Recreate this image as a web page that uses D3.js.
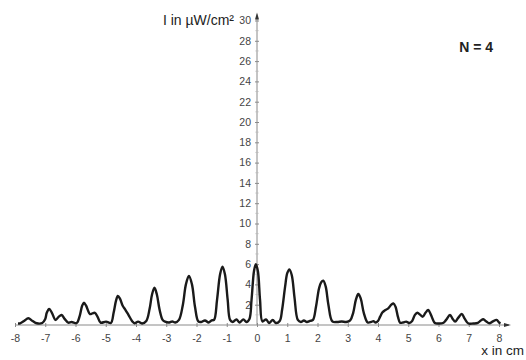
<!DOCTYPE html>
<html>
<head>
<meta charset="utf-8">
<script src="https://cdn.jsdelivr.net/npm/d3@7/dist/d3.min.js"></script>
<style>
  html, body { margin: 0; padding: 0; background: #fff; }
  svg { display: block; font-family: "Liberation Sans", Arial, sans-serif; }
</style>
</head>
<body>
<svg id="chart" width="526" height="360"></svg>
<script>
// ---- data ----
const xPos = [
  -7.9, -7.83, -7.7, -7.56, -7.42, -7.28, -7.1, -7.0, -6.95, -6.87, -6.78, -6.66, -6.56, -6.46, -6.36, -6.24, -6.13, -5.96,
  -5.86, -5.78, -5.72, -5.65, -5.52, -5.44, -5.36, -5.27, -5.17, -4.99, -4.83, -4.74, -4.66, -4.6, -4.53, -4.44, -4.36,
  -4.25, -4.12, -4.05, -3.93, -3.8, -3.66, -3.55, -3.47, -3.39, -3.31, -3.22, -3.12, -3.04, -2.9, -2.8, -2.7, -2.58,
  -2.45, -2.35, -2.25, -2.15, -2.05, -1.94, -1.85, -1.72, -1.6, -1.5, -1.42, -1.32, -1.22, -1.14, -1.06, -0.97, -0.89,
  -0.8, -0.68, -0.58, -0.45, -0.35, -0.25, -0.18, -0.1, -0.04, 0.03, 0.1, 0.18, 0.3, 0.4, 0.52, 0.62, 0.75, 0.83, 0.93,
  1.0, 1.07, 1.15, 1.24, 1.35, 1.45, 1.55, 1.65, 1.75, 1.85, 1.95, 2.05, 2.12, 2.19, 2.27, 2.36, 2.49, 2.65, 2.8, 2.95,
  3.08, 3.18, 3.27, 3.35, 3.43, 3.53, 3.66, 3.78, 3.85, 3.92, 4.0, 4.07, 4.15, 4.23, 4.34, 4.44, 4.51, 4.58, 4.66, 4.73,
  4.83, 4.93, 5.03, 5.13, 5.22, 5.3, 5.4, 5.48, 5.57, 5.66, 5.75, 5.88, 6.0, 6.15, 6.25, 6.38, 6.47, 6.55, 6.65, 6.77,
  6.87, 6.99, 7.15, 7.3, 7.4, 7.48, 7.58, 7.68, 7.8, 7.92, 8.0, 8.05
];
const intensity = [
  0.15, 0.17, 0.4, 0.66, 0.4, 0.17, 0.2, 0.6, 1.2, 1.58, 1.2, 0.5, 0.8, 0.98, 0.6, 0.23, 0.3, 0.2,
  0.9, 1.9, 2.2, 1.9, 1.08, 1.15, 1.2, 0.8, 0.23, 0.33, 0.2, 1.2, 2.4, 2.86, 2.6, 1.9, 1.54,
  1.0, 0.35, 0.17, 0.33, 0.15, 0.4, 1.6, 3.0, 3.68, 3.0, 1.5, 0.5, 0.33, 0.25, 0.35, 0.25, 0.5,
  2.0, 4.0, 4.83, 4.0, 1.8, 0.35, 0.3, 0.45, 0.25, 0.45, 0.5, 2.5, 5.0, 5.75, 5.0, 2.5, 0.5,
  0.3, 0.55, 0.25, 0.55, 0.3, 0.6, 2.5, 5.3, 6.0, 5.3, 2.5, 0.35, 0.55, 0.2, 0.5, 0.2, 0.4, 1.5, 3.8,
  5.1, 5.48, 4.9, 2.7, 0.5, 0.3, 0.45, 0.3, 0.4, 0.5, 1.8, 3.6, 4.2, 4.37, 3.8, 2.0, 0.35, 0.3, 0.35, 0.3,
  0.45, 1.2, 2.5, 3.05, 2.6, 1.2, 0.25, 0.3, 0.38, 0.25, 0.4, 0.82, 1.25, 1.45, 1.64, 2.0, 2.13, 1.8, 0.8, 0.23,
  0.25, 0.33, 0.2, 0.4, 1.0, 1.21, 1.0, 0.82, 1.2, 1.48, 1.0, 0.2, 0.15, 0.2, 0.5, 0.98, 0.6, 0.33, 0.7, 1.08,
  0.6, 0.15, 0.15, 0.2, 0.45, 0.56, 0.35, 0.17, 0.35, 0.5, 0.25, 0.17
];
const xTicks = [-8, -7, -6, -5, -4, -3, -2, -1, 0, 1, 2, 3, 4, 5, 6, 7, 8];
const yTicks = [2, 4, 6, 8, 10, 12, 14, 16, 18, 20, 22, 24, 26, 28, 30];
const yMinorTicks = [1, 3, 5, 7, 9, 11, 13, 15, 17, 19, 21, 23, 25, 27, 29];
const yLabel = "I in µW/cm²";
const xLabel = "x in cm";
const annotation = "N = 4";

// ---- drawing ----
const svg = d3.select("#chart");
const x = d3.scaleLinear().domain([-8, 8]).range([15, 499]);
const y = d3.scaleLinear().domain([0, 30]).range([325, 20.5]);
const axisColor = "#8a8a8a";
const textColor = "#444";

// x axis line with arrow
svg.append("line")
  .attr("x1", x(-8)).attr("x2", x(8) + 10)
  .attr("y1", y(0)).attr("y2", y(0))
  .attr("stroke", axisColor).attr("stroke-width", 1);
svg.append("path")
  .attr("d", `M${x(8) + 12},${y(0)} L${x(8) + 5},${y(0) - 2} L${x(8) + 5},${y(0) + 2} Z`)
  .attr("fill", "#333");

// y axis line with arrow
svg.append("line")
  .attr("x1", x(0)).attr("x2", x(0))
  .attr("y1", y(0)).attr("y2", y(30) - 6)
  .attr("stroke", axisColor).attr("stroke-width", 1);
svg.append("path")
  .attr("d", `M${x(0)},${y(30) - 8} L${x(0) - 2},${y(30) - 1} L${x(0) + 2},${y(30) - 1} Z`)
  .attr("fill", "#333");

// x axis ticks + labels via d3.axisBottom
const gx = svg.append("g")
  .attr("transform", `translate(0,${y(0)})`)
  .call(d3.axisBottom(x).tickValues(xTicks).tickSize(2).tickPadding(8)
    .tickFormat(d => d < 0 ? "-" + Math.abs(d) : String(d)));
gx.select(".domain").remove();
gx.selectAll(".tick line").attr("y1", -2).attr("y2", 2).attr("stroke", axisColor);
gx.selectAll(".tick text")
  .attr("fill", textColor).attr("font-size", 10.5)
  .attr("font-family", "Liberation Sans, Arial, sans-serif");

// y axis ticks + labels
const gy = svg.append("g")
  .attr("transform", `translate(${x(0)},0)`)
  .call(d3.axisLeft(y).tickValues(yTicks).tickSize(2).tickPadding(4));
gy.select(".domain").remove();
gy.selectAll(".tick line").attr("x1", -2).attr("x2", 2).attr("stroke", axisColor);
gy.selectAll(".tick text")
  .attr("fill", textColor).attr("font-size", 10.5)
  .attr("font-family", "Liberation Sans, Arial, sans-serif");

// minor y ticks
svg.append("g").selectAll("line").data(yMinorTicks).join("line")
  .attr("x1", x(0) - 1.5).attr("x2", x(0) + 1.5)
  .attr("y1", d => y(d)).attr("y2", d => y(d))
  .attr("stroke", "#bbb").attr("stroke-width", 1);

// curve
const pts = xPos.map((v, i) => [v, intensity[i]]);
const line = d3.line()
  .x(d => x(d[0])).y(d => y(d[1]))
  .curve(d3.curveCatmullRom.alpha(0.5));
svg.append("path")
  .datum(pts)
  .attr("d", line)
  .attr("fill", "none")
  .attr("stroke", "#1a1a1a")
  .attr("stroke-width", 2.4)
  .attr("stroke-linejoin", "round");

// labels
svg.append("text")
  .attr("x", 234).attr("y", 25)
  .attr("text-anchor", "end")
  .attr("font-size", 14).attr("fill", "#222")
  .text(yLabel);
svg.append("text")
  .attr("x", 524).attr("y", 355)
  .attr("text-anchor", "end")
  .attr("font-size", 13.5).attr("fill", "#222")
  .text(xLabel);
svg.append("text")
  .attr("x", 493).attr("y", 52)
  .attr("text-anchor", "end")
  .attr("font-size", 14).attr("font-weight", "bold").attr("fill", "#222")
  .text(annotation);
</script>
</body>
</html>
